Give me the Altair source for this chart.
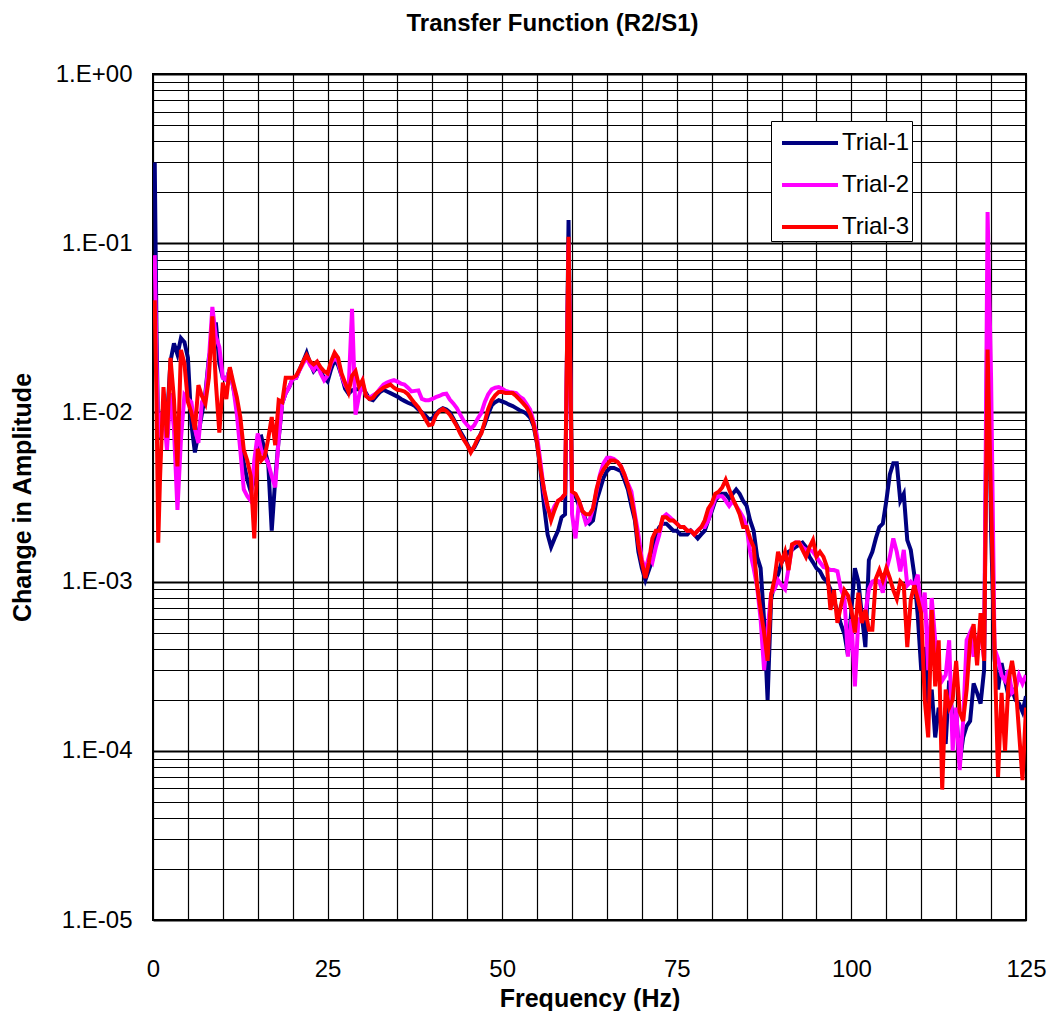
import altair as alt
import pandas as pd

# Frequency sampling (Hz)
freq = [0.25, 0.5, 0.75] + [1.0 + 0.5 * i for i in range(249)]

# Trial-1 amplitudes
trial1 = (
    [0.30, 0.03, 0.007]
    + [0.008, 0.011, 0.009, 0.02, 0.0256, 0.022, 0.0275, 0.026, 0.021, 0.0085]
    + [0.0058, 0.0075, 0.0098, 0.013, 0.021, 0.026, 0.034, 0.0195, 0.016, 0.0155]
    + [0.018, 0.014, 0.011, 0.008, 0.005, 0.004, 0.0034, 0.004, 0.0071, 0.0072]
    + [0.006, 0.005, 0.002, 0.004, 0.007, 0.0113, 0.013, 0.0141, 0.0158, 0.016]
    + [0.018, 0.02, 0.0225, 0.0195, 0.0175, 0.0185, 0.0175, 0.016, 0.0152, 0.018]
    + [0.0204, 0.019, 0.0165, 0.0138, 0.0129, 0.0135, 0.0137, 0.0137, 0.014, 0.013]
    + [0.012, 0.0118, 0.0125, 0.0132, 0.0136, 0.0133, 0.013, 0.0127, 0.0124, 0.012]
    + [0.0117, 0.0114, 0.0112, 0.0109, 0.0104, 0.01, 0.0096, 0.0091, 0.0092, 0.0098]
    + [0.0103, 0.0106, 0.0104, 0.01, 0.0092, 0.0084, 0.0077, 0.0071, 0.0065, 0.0059]
    + [0.0062, 0.0068, 0.0076, 0.0085, 0.0098, 0.011, 0.0115, 0.0118, 0.0116, 0.0114]
    + [0.0111, 0.0109, 0.0106, 0.0103, 0.0101, 0.0098, 0.0093, 0.0083, 0.0065, 0.0045]
    + [0.0028, 0.0019, 0.0016, 0.0018, 0.002, 0.0024, 0.0025, 0.137, 0.0034, 0.0032]
    + [0.0028, 0.0026, 0.0023, 0.0022, 0.0023, 0.003, 0.0035, 0.0041, 0.0045, 0.0047]
    + [0.0047, 0.0046, 0.0045, 0.004, 0.0035, 0.0028, 0.0023, 0.0015, 0.0012, 0.00102]
    + [0.00117, 0.00134, 0.0019, 0.0021, 0.0022, 0.0022, 0.0021, 0.002, 0.002, 0.0019]
    + [0.0019, 0.0019, 0.002, 0.0019, 0.0018, 0.0019, 0.002, 0.0023, 0.0026, 0.003]
    + [0.0032, 0.0033, 0.0033, 0.0031, 0.0033, 0.0035, 0.0033, 0.003, 0.0028, 0.0023]
    + [0.002, 0.0014, 0.0012, 0.00059, 0.0002, 0.00078, 0.001, 0.0011, 0.0013, 0.0014]
    + [0.0015, 0.00154, 0.0016, 0.00165, 0.0017, 0.0016, 0.0014, 0.0013, 0.0012, 0.00115]
    + [0.00105, 0.001, 0.0009, 0.00078, 0.00066, 0.00056, 0.00049, 0.00037, 0.00068, 0.0012]
    + [0.001, 0.00063, 0.00041, 0.00134, 0.0015, 0.0018, 0.0021, 0.0022, 0.003, 0.0043]
    + [0.005, 0.005, 0.003, 0.0033, 0.00176, 0.00154, 0.0011, 0.00063, 0.0003, 0.00041]
    + [0.00018, 0.00023, 0.00012, 0.00018, 0.00014, 0.00011, 0.00026, 0.00015, 0.00017, 0.000085]
    + [0.00012, 0.00014, 0.00015, 0.00025, 0.00022, 0.00019, 0.0003, 0.06, 0.002, 0.00035]
    + [0.00023, 0.00033, 0.00026, 0.00021, 0.00023, 0.0002, 0.00019, 0.00017, 0.00021]
)

# Trial-2 amplitudes
trial2 = (
    [0.085, 0.02, 0.0071]
    + [0.0095, 0.0102, 0.006, 0.013, 0.008, 0.00265, 0.0069, 0.0127, 0.012, 0.0115]
    + [0.008, 0.0066, 0.0115, 0.0125, 0.0204, 0.042, 0.028, 0.0244, 0.016, 0.0155]
    + [0.018, 0.014, 0.0098, 0.006, 0.0035, 0.0032, 0.003, 0.0052, 0.0075, 0.006]
    + [0.0055, 0.005, 0.0042, 0.0036, 0.0071, 0.0113, 0.013, 0.0141, 0.0158, 0.016]
    + [0.0178, 0.0195, 0.021, 0.019, 0.0178, 0.0195, 0.017, 0.0155, 0.0165, 0.0195]
    + [0.021, 0.02, 0.0165, 0.0145, 0.0135, 0.041, 0.0097, 0.0125, 0.015, 0.0125]
    + [0.0122, 0.0126, 0.013, 0.0138, 0.0146, 0.015, 0.0153, 0.0155, 0.0152, 0.0148]
    + [0.0146, 0.014, 0.0133, 0.0134, 0.0135, 0.012, 0.0118, 0.0118, 0.012, 0.0123]
    + [0.0125, 0.0128, 0.0129, 0.0119, 0.0113, 0.0106, 0.0097, 0.0089, 0.0084, 0.008]
    + [0.0084, 0.0092, 0.0099, 0.0115, 0.0128, 0.0137, 0.014, 0.0141, 0.0138, 0.0134]
    + [0.0132, 0.0131, 0.013, 0.0124, 0.012, 0.0112, 0.0104, 0.0088, 0.0072, 0.005]
    + [0.0034, 0.0027, 0.0025, 0.0028, 0.003, 0.0031, 0.0033, 0.1, 0.0025, 0.0018]
    + [0.003, 0.0026, 0.0022, 0.0023, 0.0027, 0.0034, 0.0043, 0.005, 0.0054, 0.0054]
    + [0.0053, 0.0051, 0.0048, 0.0043, 0.0038, 0.0034, 0.0025, 0.0019, 0.00135, 0.00118]
    + [0.0014, 0.0013, 0.0016, 0.0019, 0.0024, 0.0025, 0.0024, 0.0023, 0.0022, 0.0021]
    + [0.0021, 0.002, 0.002, 0.0019, 0.002, 0.0021, 0.0021, 0.0023, 0.0027, 0.0031]
    + [0.0032, 0.0032, 0.003, 0.0028, 0.003, 0.0028, 0.0026, 0.0024, 0.0021, 0.0015]
    + [0.0012, 0.00093, 0.0006, 0.0003, 0.00052, 0.00085, 0.0009, 0.00102, 0.00095, 0.0009]
    + [0.0012, 0.0016, 0.0017, 0.0017, 0.0016, 0.00154, 0.00154, 0.0015, 0.0014, 0.0013]
    + [0.00122, 0.0012, 0.00117, 0.00117, 0.00115, 0.0009, 0.0008, 0.00036, 0.0006, 0.00024]
    + [0.0006, 0.0006, 0.00065, 0.0009, 0.001, 0.00102, 0.001, 0.00086, 0.00117, 0.0014]
    + [0.0018, 0.0015, 0.00115, 0.00154, 0.00095, 0.001, 0.00095, 0.0011, 0.00065, 0.00086]
    + [0.0003, 0.0008, 0.00045, 0.0003, 0.00026, 0.00028, 0.00045, 0.0001, 0.00018, 0.000077]
    + [0.00015, 0.00045, 0.0005, 0.00036, 0.00045, 0.00052, 0.00035, 0.153, 0.016, 0.0004]
    + [0.00035, 0.00028, 0.00026, 0.0003, 0.00022, 0.00023, 0.00028, 0.00025, 0.00028]
)

# Trial-3 amplitudes
trial3 = (
    [0.046, 0.012, 0.0017]
    + [0.004, 0.0141, 0.0071, 0.021, 0.012, 0.0048, 0.0234, 0.0195, 0.0115, 0.010]
    + [0.0079, 0.0145, 0.0125, 0.0113, 0.016, 0.037, 0.015, 0.0076, 0.015, 0.012]
    + [0.0185, 0.015, 0.0123, 0.0094, 0.006, 0.0052, 0.0042, 0.0018, 0.0061, 0.0052]
    + [0.0055, 0.007, 0.0094, 0.0064, 0.0118, 0.0115, 0.016, 0.016, 0.016, 0.0165]
    + [0.018, 0.020, 0.0218, 0.020, 0.0192, 0.020, 0.0185, 0.0175, 0.017, 0.020]
    + [0.0225, 0.021, 0.017, 0.015, 0.0132, 0.0165, 0.0175, 0.0143, 0.0155, 0.0125]
    + [0.012, 0.0122, 0.013, 0.0135, 0.014, 0.0143, 0.0146, 0.014, 0.0136, 0.0135]
    + [0.0133, 0.0128, 0.012, 0.0113, 0.0107, 0.0099, 0.0091, 0.0084, 0.0085, 0.0096]
    + [0.0102, 0.0105, 0.0102, 0.0097, 0.009, 0.0083, 0.0075, 0.0069, 0.0064, 0.0058]
    + [0.0063, 0.007, 0.0075, 0.0088, 0.0105, 0.0118, 0.0126, 0.0132, 0.0132, 0.013]
    + [0.013, 0.013, 0.0125, 0.0119, 0.0113, 0.0107, 0.0098, 0.0085, 0.0066, 0.0046]
    + [0.0035, 0.0028, 0.0023, 0.00265, 0.003, 0.0031, 0.0033, 0.109, 0.0034, 0.0033]
    + [0.003, 0.0026, 0.0025, 0.0025, 0.0027, 0.0035, 0.0042, 0.0046, 0.0049, 0.0052]
    + [0.0052, 0.0051, 0.0048, 0.0043, 0.0037, 0.0031, 0.0024, 0.00165, 0.0013, 0.00105]
    + [0.0013, 0.0018, 0.002, 0.002, 0.0024, 0.0024, 0.0023, 0.0023, 0.0022, 0.0021]
    + [0.0021, 0.002, 0.002, 0.0019, 0.002, 0.0021, 0.0023, 0.0027, 0.0029, 0.0033]
    + [0.0034, 0.0036, 0.004, 0.0035, 0.0031, 0.0028, 0.0025, 0.0021, 0.0021, 0.0018]
    + [0.0016, 0.00095, 0.00068, 0.0005, 0.00034, 0.00083, 0.00104, 0.0015, 0.0013, 0.0015]
    + [0.00117, 0.00166, 0.0017, 0.0017, 0.00154, 0.0014, 0.0016, 0.00176, 0.00141, 0.0015]
    + [0.0014, 0.00122, 0.00068, 0.00089, 0.00057, 0.00072, 0.00089, 0.00083, 0.00068, 0.0005]
    + [0.00086, 0.00057, 0.00068, 0.00052, 0.00052, 0.00104, 0.00117, 0.00102, 0.0012, 0.00105]
    + [0.00089, 0.00079, 0.001, 0.00095, 0.00041, 0.00078, 0.00095, 0.00079, 0.00065, 0.0002]
    + [0.00012, 0.00068, 0.00024, 0.00045, 0.000059, 0.00023, 0.00018, 0.0002, 0.00034, 0.00017]
    + [0.00015, 0.00023, 0.00045, 0.00056, 0.00032, 0.00065, 0.00034, 0.0235, 0.003, 0.0004]
    + [0.00007, 0.00022, 0.0001, 0.00026, 0.00034, 0.00025, 0.00013, 0.000067, 0.00018]
)

series_names = ["Trial-1", "Trial-2", "Trial-3"]
series_colors = ["#000080", "#FF00FF", "#FF0000"]

x_grid_values = list(range(0, 130, 5))
y_decades = [-5, -4, -3, -2, -1]
y_mantissas = [1, 2, 3, 4, 5, 6, 7, 8, 9]
y_grid_values = [m * 10.0 ** d for d in y_decades for m in y_mantissas] + [1.0]

for s in (trial1, trial2, trial3):
    assert len(s) == len(freq), (len(s), len(freq))

rows = []
for name, vals in zip(series_names, (trial1, trial2, trial3)):
    for f, v in zip(freq, vals):
        rows.append({"freq": f, "amp": v, "trial": name})
df = pd.DataFrame(rows)

FONT = "Liberation Sans"
is_decade = "abs(log(datum.value)/LN10 - round(log(datum.value)/LN10)) < 0.001"
expo = "round(log(datum.value)/LN10)"
y_label_expr = f"{is_decade} ? ('1.E' + ({expo} < 0 ? '-' : '+') + '0' + abs({expo})) : ''"

x_enc = alt.X(
    "freq:Q",
    scale=alt.Scale(domain=[0, 125], nice=False, zero=False),
    axis=alt.Axis(
        values=x_grid_values,
        labelExpr="datum.value % 25 === 0 ? datum.label : ''",
        grid=True, gridColor="black", gridWidth=1.2, gridOpacity=1,
        ticks=False, domain=False, labelFlush=False, labelOverlap=False,
        labelFont=FONT, labelFontSize=24, labelColor="black", labelPadding=37,
        titleFont=FONT, titleFontSize=25, titleFontWeight="bold", titleColor="black",
        titlePadding=5,
    ),
    title="Frequency (Hz)",
)
y_enc = alt.Y(
    "amp:Q",
    scale=alt.Scale(type="log", domain=[1e-5, 1], nice=False),
    axis=alt.Axis(
        values=y_grid_values,
        labelExpr=y_label_expr,
        grid=True, gridColor="black", gridOpacity=1,
        gridWidth={"condition": {"test": is_decade, "value": 2}, "value": 1},
        ticks=False, domain=False, labelOverlap=False, labelFlush=False,
        labelFont=FONT, labelFontSize=24, labelColor="black", labelPadding=21,
        titleFont=FONT, titleFontSize=25, titleFontWeight="bold", titleColor="black",
        titlePadding=20,
    ),
    title="Change in Amplitude",
)
color_enc = alt.Color(
    "trial:N",
    scale=alt.Scale(domain=series_names, range=series_colors),
    legend=alt.Legend(
        title=None, orient="none", legendX=618, legendY=47,
        symbolType="M-0.611,0H2.5", symbolSize=1296, symbolStrokeWidth=4,
        symbolOffset=0, labelOffset=29,
        labelFont=FONT, labelFontSize=24, labelColor="black",
        strokeColor="black", fillColor="white", padding=2, rowPadding=10,
        cornerRadius=0,
    ),
)

layers = []
for name in series_names:
    layers.append(
        alt.Chart(df)
        .transform_filter(alt.datum.trial == name)
        .mark_line(strokeWidth=4, clip=True)
        .encode(x=x_enc, y=y_enc, color=color_enc, order="freq:Q")
    )

chart = (
    alt.layer(*layers)
    .properties(
        width=873,
        height=846,
        title=alt.TitleParams(
            "Transfer Function (R2/S1)", font=FONT, fontSize=24, fontWeight="bold",
            color="black", anchor="middle", dx=-37, offset=7, baseline="alphabetic",
        ),
        padding={"left": 145, "top": 66, "right": 21, "bottom": 91},
        autosize=alt.AutoSizeParams(type="none"),
    )
    .configure_view(stroke="black", strokeWidth=2)
)

chart.save("out.html", embed_options={"renderer": "svg", "actions": False})
